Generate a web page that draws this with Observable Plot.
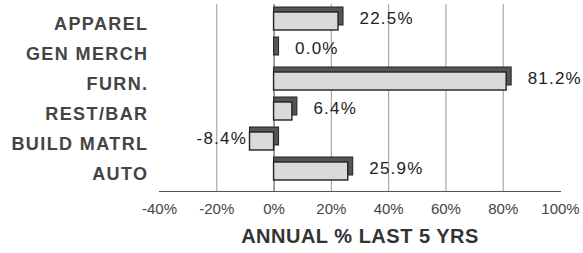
<!DOCTYPE html>
<html><head><meta charset="utf-8">
<script src="https://cdn.jsdelivr.net/npm/d3@7"></script>
<script src="https://cdn.jsdelivr.net/npm/@observablehq/plot@0.6"></script>
<style>
body{margin:0;background:#fff}
svg{display:block}
</style>
</head><body><div id="chart"></div>
<script>
const categories = ["APPAREL","GEN MERCH","FURN.","REST/BAR","BUILD MATRL","AUTO"];
const values = [22.5, 0.0, 81.2, 6.4, -8.4, 25.9];
const xTicks = [-40,-20,0,20,40,60,80,100];
const gridTicks = [-20,20,40,60,80];
const title = "ANNUAL % LAST 5 YRS";

const data = categories.map((c,i)=>({cat:c, value:values[i]}));
const font = "'Liberation Sans', Arial, Helvetica, sans-serif";

const chart = Plot.plot({
  width:583, height:253,
  marginLeft:159, marginRight:23, marginTop:4, marginBottom:62,
  style:{fontFamily:font, background:"#fff", overflow:"visible"},
  x:{domain:[-40,100]},
  y:{domain:categories, paddingInner:0.41, paddingOuter:0.2, insetBottom:3, axis:null},
  marks:[
    Plot.gridX(gridTicks, {stroke:"#777", strokeOpacity:0.75}),
    Plot.frame({anchor:"bottom", stroke:"#555"}),
    Plot.axisX(xTicks, {tickSize:0, tickPadding:12, fontSize:15, fill:"#444", tickFormat:d=>d+"%", label:null}),
    Plot.ruleX([0], {stroke:"#444"}),
    Plot.barX(data, {x:"value", y:"cat", fill:"#555", stroke:"#222", strokeWidth:1, dy:-5, insetRight:-5}),
    Plot.barX(data, {x:"value", y:"cat", fill:"#dadada", stroke:"#222", strokeWidth:1.4}),
    Plot.text(data.filter(d=>d.value>=0), {x:"value", y:"cat", text:d=>d.value.toFixed(1)+"%", textAnchor:"start", dx:21, dy:-3, fontSize:17, fill:"#222"}),
    Plot.text(data.filter(d=>d.value<0), {x:"value", y:"cat", text:d=>d.value.toFixed(1)+"%", textAnchor:"end", dx:-3, dy:-3, fontSize:17, fill:"#222"}),
    Plot.text(data, {y:"cat", text:"cat", frameAnchor:"left", textAnchor:"end", dx:-11, dy:3, fontSize:18, fontWeight:"bold", fill:"#444"}),
    Plot.text([title], {frameAnchor:"bottom", dy:51, fontSize:20, fontWeight:"bold", fill:"#333"})
  ]
});
document.getElementById("chart").appendChild(chart);
// letter spacing tweaks, by text mark order
const groups = d3.select(chart).selectAll('g[aria-label="text"]').nodes();
const spacing = [1.2, 1.2, 1.4, 0.5];
groups.forEach((g,i)=>{ if (spacing[i] != null) d3.select(g).selectAll("text").attr("letter-spacing", spacing[i]); });
</script>
</body></html>
